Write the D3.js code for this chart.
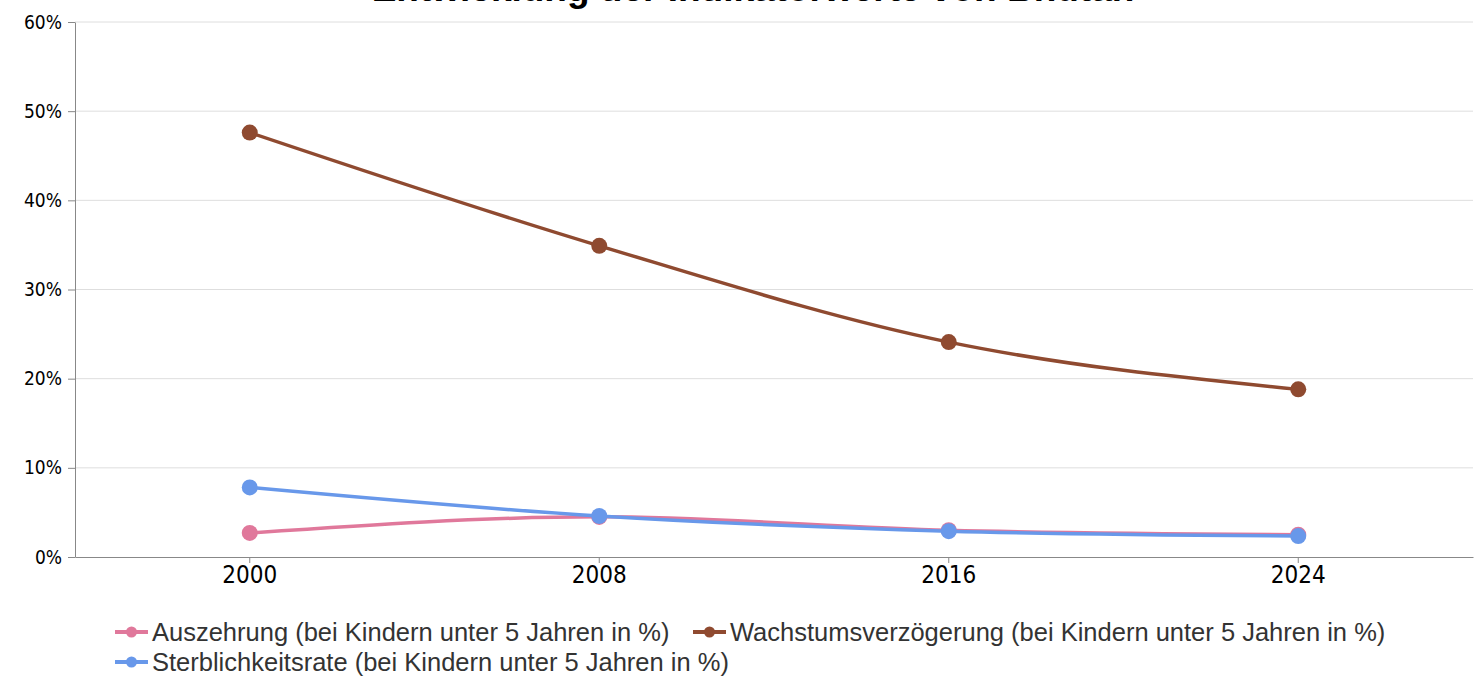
<!DOCTYPE html>
<html>
<head>
<meta charset="utf-8">
<script src="https://cdn.jsdelivr.net/npm/d3@7"></script>
<style>
  body { margin: 0; background: #fff; }
  svg { display: block; }
</style>
</head>
<body>
<div id="chart"></div>
<script>
const years = ['2000', '2008', '2016', '2024'];
const auszehrung = [2.7, 4.5, 3.0, 2.5];
const wachstum = [47.6, 34.9, 24.1, 18.8];
const sterblichkeit = [7.8, 4.6, 2.9, 2.35];
const yTicks = [0, 10, 20, 30, 40, 50, 60];

const seriesNames = [
    'Auszehrung (bei Kindern unter 5 Jahren in %)',
    'Wachstumsverzögerung (bei Kindern unter 5 Jahren in %)',
    'Sterblichkeitsrate (bei Kindern unter 5 Jahren in %)',
];
const seriesColors = ['#e0789b', '#8f4a30', '#6898ea'];

const series = [
    { name: seriesNames[0], values: auszehrung, color: seriesColors[0] },
    { name: seriesNames[1], values: wachstum, color: seriesColors[1] },
    { name: seriesNames[2], values: sterblichkeit, color: seriesColors[2] },
];

const width = 1478, height = 677;
const margin = { top: 22, right: 5, bottom: 120, left: 75 };
const innerW = width - margin.left - margin.right;
const innerH = height - margin.top - margin.bottom;

const svg = d3.select('#chart').append('svg')
    .attr('width', width)
    .attr('height', height);

// title, partly above the visible area (as in the source)
svg.append('text')
    .attr('x', 753)
    .attr('y', 1)
    .attr('text-anchor', 'middle')
    .style('font-family', 'Liberation Sans, Arial, sans-serif')
    .style('font-weight', 'bold')
    .style('font-size', '37px')
    .attr('fill', '#000')
    .text('Entwicklung der Indikatorwerte von Bhutan');

const g = svg.append('g')
    .attr('transform', `translate(${margin.left},${margin.top})`);

const x = d3.scaleBand().domain(years).range([0, innerW]);
const y = d3.scaleLinear().domain([0, 60]).range([innerH, 0]);

// grid
g.append('g')
    .selectAll('line')
    .data(yTicks.filter(d => d > 0))
    .enter().append('line')
    .attr('x1', 0)
    .attr('x2', innerW)
    .attr('y1', d => y(d))
    .attr('y2', d => y(d))
    .attr('stroke', '#dedede')
    .attr('stroke-width', 1);

const tickFont = 'DejaVu Sans Condensed, DejaVu Sans, sans-serif';

// y axis
const yAxis = g.append('g')
    .call(d3.axisLeft(y).tickValues(yTicks).tickFormat(d => d + '%').tickSize(7).tickSizeOuter(0));
yAxis.select('.domain').attr('stroke', '#888');
yAxis.selectAll('.tick line').attr('stroke', '#888');
yAxis.selectAll('text')
    .attr('x', -13)
    .style('font-family', tickFont)
    .style('font-size', '19px')
    .attr('fill', '#000');

// x axis
const xAxis = g.append('g')
    .attr('transform', `translate(0,${innerH})`)
    .call(d3.axisBottom(x).tickSize(6).tickSizeOuter(0));
xAxis.select('.domain').attr('stroke', '#888');
xAxis.selectAll('.tick line').attr('stroke', '#888');
xAxis.selectAll('text')
    .attr('y', 9)
    .attr('dy', '0.71em')
    .style('font-family', tickFont)
    .style('font-size', '24px')
    .attr('fill', '#000');

// lines and dots
const line = d3.line()
    .x((d, i) => x(years[i]) + x.bandwidth() / 2)
    .y(d => y(d))
    .curve(d3.curveMonotoneX);

series.forEach(s => {
    g.append('path')
        .datum(s.values)
        .attr('d', line)
        .attr('fill', 'none')
        .attr('stroke', s.color)
        .attr('stroke-width', 3.5);

    g.selectAll(null)
        .data(s.values)
        .enter().append('circle')
        .attr('cx', (d, i) => x(years[i]) + x.bandwidth() / 2)
        .attr('cy', d => y(d))
        .attr('r', 8)
        .attr('fill', s.color);
});

// legend
const legendItems = [
    { s: series[0], x: 115, y: 632 },
    { s: series[1], x: 693, y: 632 },
    { s: series[2], x: 115, y: 662 },
];
const legend = svg.append('g');
legendItems.forEach(it => {
    const lg = legend.append('g').attr('transform', `translate(${it.x},${it.y})`);
    lg.append('line')
        .attr('x1', 0).attr('x2', 33)
        .attr('y1', 0).attr('y2', 0)
        .attr('stroke', it.s.color)
        .attr('stroke-width', 4);
    lg.append('circle')
        .attr('cx', 16.5).attr('cy', 0).attr('r', 5.5)
        .attr('fill', it.s.color);
    lg.append('text')
        .attr('x', 37)
        .attr('y', 0)
        .attr('dy', '0.35em')
        .style('font-family', 'Liberation Sans, Arial, sans-serif')
        .style('font-size', '25.5px')
        .attr('fill', '#333')
        .text(it.s.name);
});
</script>
</body>
</html>
